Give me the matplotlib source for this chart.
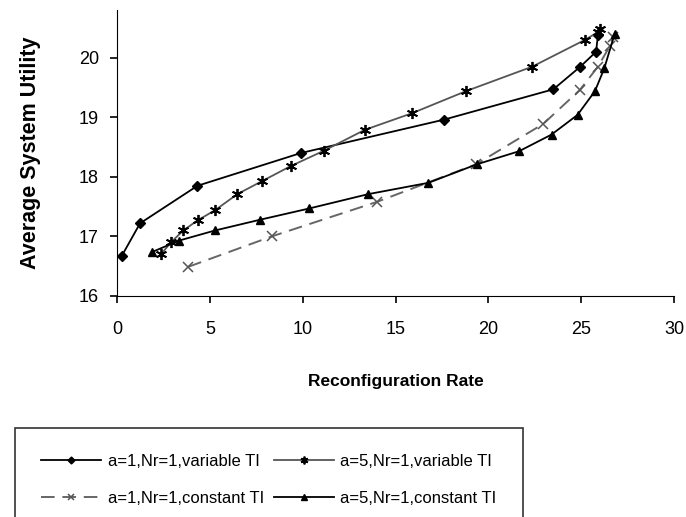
import matplotlib
matplotlib.use("Agg")
import matplotlib.pyplot as plt

plt.rcParams['font.family'] = ['Liberation Sans', 'DejaVu Sans']

# a=1, Nr=1, variable TI
x_a1_var = [0.25, 1.24, 4.33, 9.9, 17.6, 23.5, 24.95, 25.8, 25.9]
y_a1_var = [16.67, 17.22, 17.85, 18.4, 18.96, 19.47, 19.85, 20.1, 20.38]

# a=5, Nr=1, variable TI
x_a5_var = [2.37, 2.9, 3.57, 4.34, 5.28, 6.48, 7.82, 9.35, 11.15, 13.35,
            15.9, 18.8, 22.36, 25.2, 25.9, 26.0]
y_a5_var = [16.7, 16.9, 17.1, 17.27, 17.44, 17.71, 17.93, 18.18, 18.44, 18.79,
            19.07, 19.44, 19.85, 20.3, 20.43, 20.48]

# a=1, Nr=1, constant TI
x_a1_con = [3.84, 8.33, 14.0, 19.33, 22.96, 24.93, 25.9, 26.55, 26.7]
y_a1_con = [16.49, 17.0, 17.58, 18.21, 18.89, 19.46, 19.85, 20.2, 20.35]

# a=5, Nr=1, constant TI
x_a5_con = [1.9, 3.34, 5.28, 7.7, 10.36, 13.53, 16.77, 19.37, 21.65, 23.4,
            24.8, 25.74, 26.24, 26.8]
y_a5_con = [16.74, 16.93, 17.1, 17.28, 17.47, 17.71, 17.9, 18.21, 18.43, 18.71,
            19.04, 19.44, 19.82, 20.4]

labels = ['a=1,Nr=1,variable TI', 'a=5,Nr=1,variable TI',
          'a=1,Nr=1,constant TI', 'a=5,Nr=1,constant TI']

fig = plt.figure(figsize=(6.86, 5.17), dpi=100)
ax = fig.add_axes([0.1706, 0.4275, 0.812, 0.553])

l1, = ax.plot(x_a1_var, y_a1_var, color='black', lw=1.3, marker='D', ms=5)
l2, = ax.plot(x_a5_var, y_a5_var, color='#555555', lw=1.3, marker=(6, 2, 0),
              ms=8, mec='black', mew=1.3)
l3, = ax.plot(x_a1_con, y_a1_con, color='#666666', lw=1.4, dashes=(7, 4),
              marker='x', ms=7, mec='#555555', mew=1.1)
l4, = ax.plot(x_a5_con, y_a5_con, color='black', lw=1.3, marker='^', ms=6)

ax.set_xlim(0, 30)
ax.set_ylim(16, 20.8)
ax.set_xticks([0, 5, 10, 15, 20, 25, 30])
ax.set_yticks([16, 17, 18, 19, 20])
ax.spines['top'].set_visible(False)
ax.spines['right'].set_visible(False)
ax.tick_params(direction='out', length=5, width=1.2, labelsize=13)
ax.tick_params(axis='x', pad=13)
ax.tick_params(axis='y', pad=8)
ax.set_xlabel('Reconfiguration Rate', fontsize=12.5, fontweight='bold', labelpad=26)
ax.set_ylabel('Average System Utility', fontsize=15.5, fontweight='bold', labelpad=27)

# legend fills column-wise, so order handles to get row 1 = variable, row 2 = constant
leg = fig.legend([l1, l3, l2, l4], [labels[0], labels[2], labels[1], labels[3]],
                 ncol=2, loc='upper left', bbox_to_anchor=(15 / 686, 1 - 428 / 517),
                 borderaxespad=0, fontsize=12, frameon=True, fancybox=False,
                 edgecolor='black', handlelength=3.6, columnspacing=0.6,
                 labelspacing=1.3, borderpad=1.55, handletextpad=0.4, markerscale=0.7)
leg.get_frame().set_linewidth(1.2)

fig.savefig('out.png', dpi=100)
